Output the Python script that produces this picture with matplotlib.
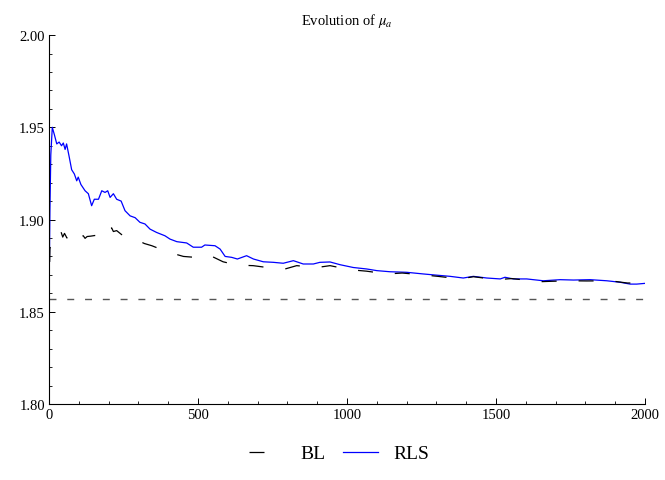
import matplotlib
matplotlib.use("Agg")
import matplotlib.pyplot as plt
import numpy as np

plt.rcParams["font.family"] = ["Liberation Serif", "DejaVu Serif"]
plt.rcParams["mathtext.fontset"] = "stix"
plt.rcParams["lines.scale_dashes"] = False

# RLS estimate (blue)
rls_x = [0, 3, 6, 11, 18, 26, 34, 42, 48, 54, 59, 67, 76, 85, 93, 98, 107, 121,
         132, 143, 152, 166, 177, 188, 197, 205, 216, 227, 242, 255, 272, 289,
         305, 322, 339, 361, 389, 406, 429, 462, 484, 512, 523, 557, 574, 591,
         613, 632, 663, 686, 719, 753, 786, 820, 853, 887, 909, 943, 977, 1021,
         1066, 1100, 1144, 1200, 1256, 1290, 1346, 1390, 1424, 1469, 1514, 1530,
         1558, 1603, 1625, 1659, 1715, 1760, 1816, 1872, 1916, 1950, 1972, 2000]
rls_y = [1.856, 1.905, 1.935, 1.950, 1.946, 1.941, 1.942, 1.940, 1.9415, 1.938,
         1.941, 1.9346, 1.927, 1.9247, 1.921, 1.923, 1.919, 1.9156, 1.914,
         1.9075, 1.911, 1.911, 1.9156, 1.9147, 1.9156, 1.912, 1.914, 1.911,
         1.910, 1.9048, 1.902, 1.901, 1.8985, 1.8976, 1.8948, 1.893, 1.8912,
         1.8894, 1.888, 1.8873, 1.885, 1.885, 1.8862, 1.8858, 1.884, 1.880,
         1.8795, 1.8786, 1.8804, 1.8786, 1.8771, 1.8768, 1.8763, 1.8777,
         1.8759, 1.8759, 1.8768, 1.877, 1.8755, 1.874, 1.8732, 1.8723, 1.8717,
         1.8714, 1.8705, 1.870, 1.8692, 1.8683, 1.8692, 1.8683, 1.8678, 1.8687,
         1.8678, 1.8678, 1.8674, 1.8668, 1.8674, 1.8672, 1.8674, 1.8668, 1.866,
         1.865, 1.865, 1.8654]

# BL estimate (black, dashed)
bl_x = [0, 3, 9, 15, 30, 40, 46, 52, 60, 75, 82, 90, 100, 115, 121, 128, 140,
        160, 166, 177, 200, 210, 216, 227, 250, 272, 289, 320, 345, 367, 412,
        451, 490, 534, 584, 631, 685, 732, 792, 831, 899, 943, 1010, 1066,
        1134, 1185, 1255, 1305, 1380, 1424, 1503, 1553, 1648, 1681, 1748, 1805,
        1883, 1940, 2000]
bl_y = [1.857, 1.884, 1.8894, 1.889, 1.891, 1.8935, 1.8905, 1.8925, 1.890,
        1.8925, 1.8905, 1.8918, 1.890, 1.8912, 1.8898, 1.8908, 1.891, 1.8915,
        1.893, 1.8948, 1.893, 1.8955, 1.8935, 1.894, 1.891, 1.890, 1.8894,
        1.887, 1.8858, 1.8844, 1.8818, 1.880, 1.8795, 1.881, 1.8771, 1.8753,
        1.875, 1.874, 1.8732, 1.875, 1.874, 1.875, 1.8728, 1.872, 1.8705,
        1.871, 1.870, 1.8692, 1.8678, 1.869, 1.8674, 1.868, 1.8663, 1.8665,
        1.8668, 1.8667, 1.8668, 1.8656, 1.8655]

true_mu = 1.857

fig = plt.figure(figsize=(6.65, 4.81), dpi=100)
ax = fig.add_axes([0.0737, 0.158, 0.8963, 0.767])

ax.plot([0, 2000], [true_mu, true_mu], color="#555555", lw=1.0,
        dashes=(5.0, 7.8))
ax.plot(rls_x, rls_y, color="#0000ff", lw=0.9, label="RLS")
ax.plot(bl_x, bl_y, color="black", lw=0.9, dashes=(10.8, 15.8), label="BL")

ax.set_xlim(0, 2000)
ax.set_ylim(1.80, 2.00)
ax.set_xticks([0, 500, 1000, 1500, 2000])
ax.set_xticks(np.arange(0, 2001, 100), minor=True)
ax.set_yticks([1.80, 1.85, 1.90, 1.95, 2.00])
ax.set_yticks(np.arange(1.80, 2.001, 0.01), minor=True)
ax.set_yticklabels(["1.80", "1.85", "1.90", "1.95", "2.00"])
ax.tick_params(which="major", direction="in", length=4, width=0.7,
               labelsize=10.5, pad=3)
ax.tick_params(which="minor", direction="in", length=2.3, width=0.6)
for s in ["top", "right"]:
    ax.spines[s].set_visible(False)
for s in ["left", "bottom"]:
    ax.spines[s].set_linewidth(0.8)

ax.set_title(r"Evolution of $\mu_a$", fontsize=10.5, pad=8)

h, l = ax.get_legend_handles_labels()
fig.legend(h[::-1], l[::-1], loc="center", bbox_to_anchor=(0.51, 0.055),
           ncol=2, frameon=False, fontsize=14, handlelength=1.8,
           columnspacing=0.9, handletextpad=0.8)

fig.savefig("out.png", dpi=100)
